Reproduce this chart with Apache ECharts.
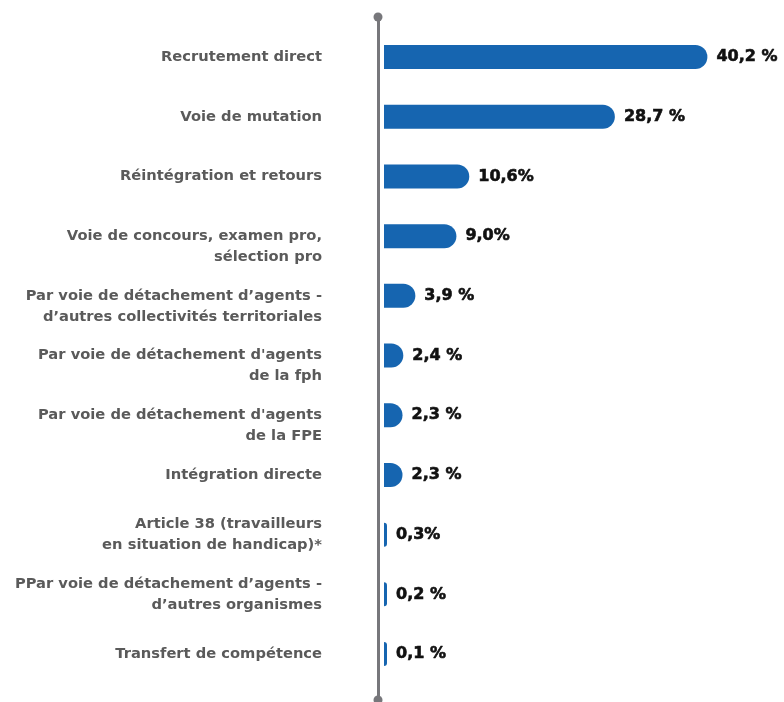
<!DOCTYPE html>
<html>
<head>
<meta charset="utf-8">
<script src="https://cdn.jsdelivr.net/npm/echarts@6/dist/echarts.min.js"></script>
<style>
html,body{margin:0;padding:0;background:#fff;}
#chart{width:784px;height:702px;}
</style>
</head>
<body>
<div id="chart"></div>
<script>
const categories = [
  "Recrutement direct",
  "Voie de mutation",
  "Réintégration et retours",
  "Voie de concours, examen pro,\nsélection pro",
  "Par voie de détachement d’agents -\nd’autres collectivités territoriales",
  "Par voie de détachement d'agents\nde la fph",
  "Par voie de détachement d'agents\nde la FPE",
  "Intégration directe",
  "Article 38 (travailleurs\nen situation de handicap)*",
  "PPar voie de détachement d’agents -\nd’autres organismes",
  "Transfert de compétence"
];
const values = [40.2, 28.7, 10.6, 9.0, 3.9, 2.4, 2.3, 2.3, 0.3, 0.2, 0.1];
const valueLabels = ["40,2 %", "28,7 %", "10,6%", "9,0%", "3,9 %", "2,4 %", "2,3 %", "2,3 %", "0,3%", "0,2 %", "0,1 %"];
const firstLineAligned = [false, false, false, true, true, true, true, false, false, false, false];

const chart = echarts.init(document.getElementById('chart'), null, {renderer: 'canvas'});
const FONT = '"DejaVu Sans", sans-serif';

chart.setOption({
  animation: false,
  backgroundColor: '#ffffff',
  grid: [
    {left: 378, top: 17, bottom: 2, width: 10},
    {left: 384, top: 27.2, height: 656.7, width: 362}
  ],
  xAxis: [
    {gridIndex: 0, type: 'value', min: 0, max: 1, show: false},
    {gridIndex: 1, type: 'value', min: 0, max: 45, show: false}
  ],
  yAxis: [
    {
      gridIndex: 0, type: 'value', min: 0, max: 1,
      axisLine: {show: true, symbol: ['circle', 'circle'], symbolSize: [9, 9],
        lineStyle: {color: '#77777b', width: 3}},
      axisTick: {show: false}, axisLabel: {show: false}, splitLine: {show: false}
    },
    {
      gridIndex: 1, type: 'category', inverse: true, data: categories,
      axisLine: {show: false}, axisTick: {show: false}, splitLine: {show: false},
      axisLabel: {
        margin: 62, fontSize: 14.7, fontWeight: 700, color: '#5a5a5a',
        fontFamily: FONT, lineHeight: 21, align: 'right',
        formatter: (v, i) => firstLineAligned[i] ? '\n' + v : v
      }
    }
  ],
  series: [{
    type: 'bar',
    xAxisIndex: 1, yAxisIndex: 1,
    data: values,
    barWidth: 24,
    barMinHeight: 3,
    itemStyle: {color: '#1665b0', borderRadius: [0, 12, 12, 0]},
    label: {
      show: true, position: 'right', distance: 9,
      formatter: p => valueLabels[p.dataIndex],
      fontSize: 16, fontWeight: 700, color: '#111111', fontFamily: FONT,
      textBorderColor: '#111111', textBorderWidth: 0.6
    }
  }]
});
</script>
</body>
</html>
